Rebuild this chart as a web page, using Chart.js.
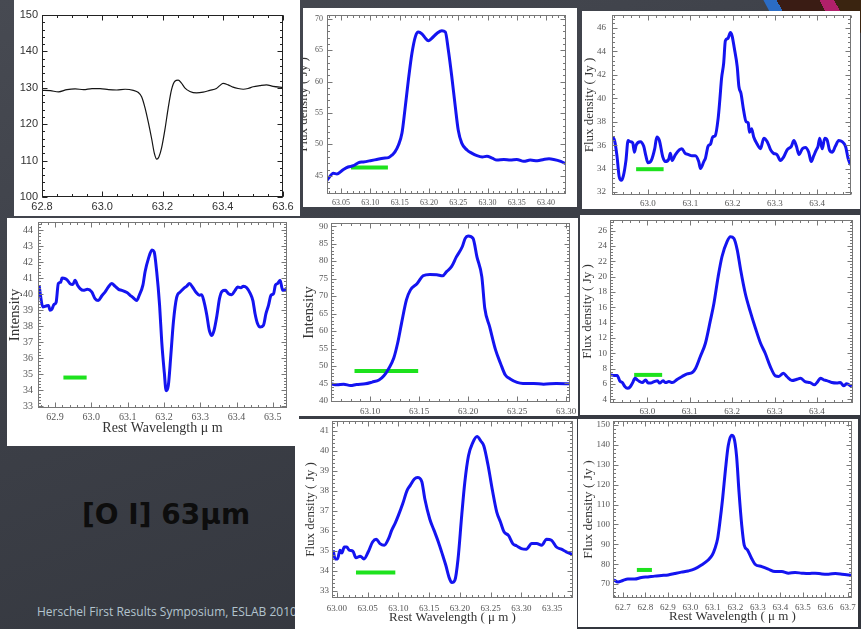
<!DOCTYPE html>
<html>
<head>
<meta charset="utf-8">
<script src="https://cdn.jsdelivr.net/npm/chart.js@4.4.0/dist/chart.umd.min.js"></script>
<style>
body { margin: 0; width: 861px; height: 629px; overflow: hidden; position: relative;
  background: linear-gradient(160deg, #474a52 0%, #3c3f47 45%, #31343b 100%); }
.panel { position: absolute; background: #fff; overflow: hidden; }
.panel canvas { position: absolute; left: 0; top: 0; }
#deco { position: absolute; left: 772px; top: -40px; width: 130px; height: 80px; transform: rotate(-28deg);
  background: linear-gradient(90deg, #2b6cc4 0 9%, #3a1c14 9% 38%, #b0206a 38% 48%, #3a2410 48% 78%, #c08020 78% 86%, #2b6cc4 86%); }
#title { position: absolute; left: 82px; top: 501px; font: bold 28px "DejaVu Sans"; line-height: 28px; color: #0d0d0d; white-space: nowrap; }
#foot { position: absolute; left: 37px; top: 606px; font: 12px "Open Sans"; line-height: 12px; color: #b3c4ce; white-space: nowrap; }
</style>
</head>
<body>
<div id="deco"></div>
<div id="title">[O I] 63μm</div>
<div id="foot">Herschel First Results Symposium, ESLAB 2010</div>
<script>
// panel 1 (top left, black)
const wl1 = [62.800,62.828,62.855,62.883,62.910,62.938,62.966,62.993,63.021,63.048,63.076,63.103,63.120,63.131,63.142,63.153,63.164,63.173,63.181,63.188,63.197,63.208,63.219,63.230,63.241,63.252,63.263,63.274,63.291,63.313,63.335,63.357,63.379,63.390,63.401,63.418,63.434,63.451,63.468,63.484,63.501,63.523,63.545,63.567,63.600];
const flux1 = [129.3,129.2,128.9,129.5,129.7,129.5,129.8,129.8,129.5,129.4,129.6,129.3,128.7,127.5,124.5,120.5,116,112,110.4,111,113.5,118.5,124.5,129.5,131.8,132.1,131.3,130.0,129.0,128.6,128.8,129.3,129.8,130.6,131.2,130.8,130.2,129.8,129.6,129.8,130.3,130.6,130.8,130.4,130.1];

// panel 2 (top middle)
const wl2 = [63.026,63.037,63.043,63.054,63.062,63.071,63.080,63.088,63.100,63.111,63.122,63.131,63.137,63.142,63.148,63.154,63.159,63.165,63.171,63.177,63.182,63.188,63.194,63.199,63.205,63.214,63.222,63.228,63.233,63.239,63.245,63.250,63.256,63.265,63.273,63.282,63.291,63.299,63.308,63.316,63.328,63.339,63.350,63.362,63.373,63.385,63.396,63.405,63.413,63.425,63.434];
const flux2 = [44.3,45.4,45.3,46.0,46.4,46.6,47.1,47.2,47.4,47.6,47.8,47.9,48.3,48.8,49.9,51.8,55.5,60.3,64.5,67.2,67.9,67.6,66.9,66.5,66.9,67.7,68.1,67.9,65.1,60.8,56.0,52.3,50.2,49.1,48.6,48.2,48.0,48.1,47.8,47.5,47.6,47.5,47.6,47.3,47.5,47.4,47.6,47.7,47.6,47.3,46.9];
const bar2 = [63.067, 63.130], barLevel2 = 46.3;

// panel 3 (top right)
const wl3 = [62.916,62.921,62.927,62.932,62.937,62.942,62.948,62.953,62.958,62.964,62.968,62.972,62.982,62.990,62.995,63.000,63.008,63.016,63.021,63.027,63.035,63.041,63.049,63.053,63.057,63.065,63.074,63.080,63.088,63.096,63.104,63.112,63.120,63.124,63.132,63.136,63.142,63.148,63.153,63.159,63.166,63.170,63.174,63.179,63.183,63.189,63.195,63.199,63.204,63.211,63.215,63.220,63.226,63.232,63.237,63.240,63.245,63.250,63.258,63.266,63.274,63.282,63.290,63.297,63.305,63.313,63.321,63.329,63.339,63.345,63.351,63.357,63.365,63.372,63.380,63.386,63.392,63.398,63.402,63.406,63.412,63.418,63.424,63.429,63.436,63.443,63.451,63.459,63.467,63.473,63.479];
const flux3 = [36.7,36.4,35.0,33.3,33.0,33.4,34.7,36.4,36.3,36.2,35.4,36.0,36.3,35.9,35.1,34.5,34.7,35.7,36.7,36.4,35.0,34.6,34.8,35.3,34.7,35.2,35.6,35.7,35.3,35.2,35.1,35.1,34.6,34.0,34.6,34.9,35.9,36.1,36.7,36.8,38.3,39.9,41.7,43.0,44.9,45.1,45.6,45.3,44.3,42.7,41.0,40.4,39.0,38.0,37.9,37.1,37.4,36.7,36.1,35.7,36.6,36.3,35.6,35.3,35.2,34.7,35.0,35.6,35.9,36.4,35.9,35.2,35.7,35.8,35.4,34.6,35.1,35.6,35.9,36.6,35.7,36.6,36.4,35.6,35.4,35.9,36.4,36.3,35.9,34.9,34.3];
const bar3 = [62.972, 63.037], barLevel3 = 33.95;

// panel 4 (middle left)
const wl4 = [62.856,62.860,62.866,62.875,62.882,62.886,62.891,62.897,62.903,62.909,62.916,62.919,62.928,62.934,62.941,62.949,62.955,62.962,62.969,62.978,62.989,63.001,63.010,63.019,63.029,63.038,63.047,63.056,63.065,63.075,63.084,63.098,63.107,63.116,63.125,63.132,63.142,63.148,63.157,63.167,63.173,63.180,63.188,63.194,63.201,63.206,63.212,63.219,63.226,63.235,63.245,63.254,63.263,63.270,63.280,63.289,63.298,63.304,63.311,63.318,63.325,63.332,63.338,63.346,63.353,63.360,63.369,63.378,63.387,63.396,63.403,63.412,63.419,63.428,63.438,63.445,63.451,63.458,63.465,63.474,63.481,63.488,63.495,63.502,63.507,63.513,63.520,63.527,63.534,63.541];
const flux4 = [40.56,39.9,39.2,39.26,39.3,39.0,39.05,39.35,39.5,40.66,40.76,41.0,40.97,40.87,40.66,40.6,40.87,40.56,40.35,40.24,40.3,40.14,39.72,39.6,39.9,40.14,40.45,40.66,40.5,40.3,40.24,40.1,39.93,39.76,39.6,39.93,40.56,41.4,42.2,42.75,42.64,41.4,39.3,37.0,35.1,33.98,34.3,36.2,38.26,39.8,40.14,40.35,40.5,40.66,40.4,40.1,39.93,39.97,39.47,38.7,37.74,37.42,37.74,38.68,39.72,40.18,40.24,40.03,39.97,40.24,40.45,40.4,40.5,40.4,40.03,39.6,38.78,38.15,37.95,38.05,38.78,39.3,39.93,40.03,40.56,40.66,40.87,40.24,40.3,40.4];
const bar4 = [62.923, 62.987], barLevel4 = 34.8;

// panel 5 (centre)
const wl5 = [63.060,63.066,63.073,63.080,63.086,63.095,63.102,63.109,63.114,63.119,63.124,63.128,63.132,63.137,63.141,63.148,63.154,63.161,63.168,63.174,63.178,63.183,63.188,63.194,63.197,63.200,63.205,63.209,63.214,63.217,63.222,63.228,63.233,63.238,63.243,63.250,63.256,63.267,63.277,63.290,63.304];
const flux5 = [44.9,44.6,44.8,44.4,44.7,44.9,45.4,46.0,47.2,49.3,52.2,56.5,62.2,68.9,71.7,73.6,75.8,76.2,76.1,75.8,77.0,78.4,81.2,84.1,86.5,87.2,86.5,81.2,75.5,66.5,61.2,54.6,50.8,47.4,46.3,45.3,45.0,45.0,44.8,45.0,44.9];
const bar5 = [63.084, 63.149], barLevel5 = 48.6;

// panel 6 (middle right)
const wl6 = [62.914,62.922,62.929,62.935,62.941,62.947,62.953,62.959,62.965,62.971,62.976,62.982,62.988,62.996,63.002,63.008,63.016,63.024,63.029,63.037,63.043,63.051,63.059,63.071,63.082,63.094,63.106,63.114,63.125,63.137,63.149,63.157,63.167,63.176,63.188,63.196,63.204,63.212,63.220,63.231,63.243,63.255,63.267,63.278,63.290,63.302,63.310,63.321,63.329,63.341,63.353,63.361,63.372,63.384,63.394,63.402,63.408,63.416,63.423,63.435,63.447,63.455,63.463,63.470,63.482];
const flux6 = [7.17,7.1,7.1,6.4,6.17,5.65,5.43,5.57,6.1,6.74,6.52,6.3,6.17,6.52,6.1,6.1,6.3,6.4,6.1,6.4,6.17,6.3,6.17,6.6,6.96,7.3,7.48,8.04,9.57,11.3,14.35,16.5,20.0,22.6,24.57,25.2,25.0,23.5,20.9,17.8,15.4,13.26,11.3,10.0,8.26,7.04,6.96,7.4,6.96,6.43,6.6,6.74,6.3,6.17,5.87,6.3,6.74,6.52,6.43,6.17,6.1,6.17,5.74,6.0,5.65];
const bar6 = [62.969, 63.035], barLevel6 = 7.17;

// panel 7 (bottom middle)
const wl7 = [62.994,62.997,63.001,63.005,63.008,63.012,63.016,63.020,63.026,63.031,63.038,63.044,63.051,63.058,63.064,63.070,63.077,63.084,63.089,63.095,63.100,63.107,63.114,63.119,63.126,63.131,63.138,63.143,63.151,63.158,63.165,63.172,63.177,63.183,63.187,63.192,63.197,63.203,63.208,63.214,63.221,63.228,63.234,63.239,63.246,63.253,63.260,63.266,63.272,63.279,63.286,63.292,63.300,63.308,63.317,63.325,63.333,63.341,63.349,63.357,63.365,63.373,63.383];
const flux7 = [35.04,34.6,34.6,35.04,34.9,35.2,35.2,35.04,34.99,34.66,34.74,34.6,34.96,35.45,35.59,35.37,35.29,35.62,36.03,36.41,36.78,37.36,38.02,38.27,38.6,38.68,38.48,37.6,36.6,36.03,35.45,34.79,34.3,33.63,33.42,33.55,34.6,36.78,38.43,39.76,40.42,40.72,40.5,40.25,39.26,38.02,36.94,36.45,35.95,35.78,35.37,35.26,35.12,35.09,35.37,35.37,35.29,35.59,35.54,35.2,35.09,34.96,34.82];
const bar7 = [63.031, 63.095], barLevel7 = 33.93;

// panel 8 (bottom right)
const wl8 = [62.660,62.678,62.700,62.722,62.752,62.782,62.811,62.841,62.871,62.901,62.930,62.960,62.990,63.019,63.049,63.079,63.097,63.109,63.121,63.131,63.143,63.156,63.168,63.183,63.193,63.205,63.216,63.228,63.239,63.254,63.272,63.287,63.317,63.346,63.376,63.406,63.436,63.465,63.495,63.525,63.554,63.584,63.614,63.644,63.673,63.718];
const flux8 = [72.1,71.0,71.8,72.5,72.5,73.3,73.6,74.0,74.3,74.6,75.3,76.0,76.6,77.6,79.6,82.1,84.6,87.9,92.9,101.2,112.9,127.9,139.5,144.8,143.7,134.5,116.2,99.6,89.6,87.1,82.9,80.0,78.8,77.5,76.3,76.3,75.5,75.8,75.5,75.3,75.5,75.1,75.0,75.3,75.0,74.3];
const bar8 = [62.762, 62.829], barLevel8 = 77.1;

const BLUE = '#1414f0', GREEN = '#1de21d';
const FLUX = 'Flux density ( Jy )';

const framePlugin = {
  id: 'frame',
  afterDatasetsDraw(chart, args, o) {
    const {ctx, chartArea: a, scales: {x, y}} = chart;
    const L = Math.round(a.left) + 0.5, R = Math.round(a.right) - 0.5;
    const T = Math.round(a.top) + 0.5, B = Math.round(a.bottom) - 0.5;
    ctx.save();
    ctx.strokeStyle = o.color;
    ctx.lineWidth = 1;
    ctx.strokeRect(L, T, R - L, B - T);
    ctx.beginPath();
    const each = (s, step, fn) => {
      const start = Math.ceil(s.min / step - 1e-6);
      for (let i = start; i * step <= s.max + 1e-9; i++) fn(Math.round(s.getPixelForValue(i * step)) + 0.5);
    };
    const xt = len => px => { ctx.moveTo(px, B); ctx.lineTo(px, B - len); ctx.moveTo(px, T); ctx.lineTo(px, T + len); };
    const yt = len => py => { ctx.moveTo(L, py); ctx.lineTo(L + len, py); ctx.moveTo(R, py); ctx.lineTo(R - len, py); };
    each(x, o.xMinor, xt(o.minor));
    each(y, o.yMinor, yt(o.minor));
    x.ticks.forEach(t => xt(o.major)(Math.round(x.getPixelForValue(t.value)) + 0.5));
    y.ticks.forEach(t => yt(o.major)(Math.round(y.getPixelForValue(t.value)) + 0.5));
    ctx.stroke();
    ctx.restore();
  }
};

const panels = [
  {box: [14, 0, 300, 216], frame: [42, 15, 283, 197], x: wl1, y: flux1, xr: [62.8, 63.6], yr: [100, 150],
   xs: 0.2, ys: 10, xd: 1, yd: 0, xm: 0.05, ym: 2, line: '#151515', lw: 1.2, sans: true, ypad: 4, xpad: 3},
  {box: [303, 8, 577, 207], frame: [327, 15, 566, 194], x: wl2, y: flux2, bar: bar2, level: barLevel2,
   xr: [63.026, 63.434], yr: [42.1, 70.6], xs: 0.05, ys: 5, xd: 2, yd: 0, xm: 0.01, ym: 1,
   ytitle: FLUX, ysize: 13, ytpad: -7, ypad: 4, xpad: 4, tsize: 8},
  {box: [582, 11, 860, 209], frame: [612, 15, 851, 195], x: wl3, y: flux3, bar: bar3, level: barLevel3,
   xr: [62.915, 63.48], yr: [31.75, 47.1], xs: 0.1, ys: 2, xd: 1, yd: 0, xm: 0.02, ym: 0.4,
   ytitle: FLUX, ysize: 13, ytpad: 0, ypad: 6, xpad: 3},
  {box: [7, 218, 299, 446], frame: [38, 222, 287, 408], x: wl4, y: flux4, bar: bar4, level: barLevel4,
   xr: [62.853, 63.539], yr: [32.9, 44.5], xs: 0.1, ys: 1, xd: 1, yd: 0, xm: 0.02, ym: 0.2,
   ytitle: 'Intensity', ysize: 15, ytpad: -1, ypad: 5, xpad: 3, tsize: 10,
   xtitle: 'Rest Wavelength μ m', xsize: 14, xtpad: 9.6},
  {box: [299, 218, 578, 416], frame: [331, 223, 570, 402], x: wl5, y: flux5, bar: bar5, level: barLevel5,
   xr: [63.06, 63.304], yr: [39.7, 90.9], xs: 0.05, ys: 5, xd: 2, yd: 0, xm: 0.01, ym: 1,
   ytitle: 'Intensity', ysize: 15, ytpad: 1.5, ypad: 3, xpad: 4},
  {box: [580, 215, 860, 415], frame: [610, 220, 853, 403], x: wl6, y: flux6, bar: bar6, level: barLevel6,
   xr: [62.912, 63.485], yr: [3.5, 27.4], xs: 0.1, ys: 2, xd: 1, yd: 0, xm: 0.02, ym: 0.4,
   ytitle: FLUX, ysize: 13, ytpad: 0, ypad: 3, xpad: 3},
  {box: [295, 419, 577, 629], frame: [332, 421, 573, 598], x: wl7, y: flux7, bar: bar7, level: barLevel7,
   xr: [62.992, 63.384], yr: [32.65, 41.5], xs: 0.05, ys: 1, xd: 2, yd: 0, xm: 0.01, ym: 0.2,
   ytitle: FLUX, ysize: 13, ytpad: 7.7, ypad: 3, xpad: 5,
   xtitle: 'Rest Wavelength ( μ m )', xsize: 13, xtpad: 3.2},
  {box: [578, 419, 858, 627], frame: [613, 421, 852, 598], x: wl8, y: flux8, bar: bar8, level: barLevel8,
   xr: [62.656, 63.718], yr: [63, 152], xs: 0.1, ys: 10, xd: 1, yd: 0, xm: 0.02, ym: 2,
   ytitle: FLUX, ysize: 13.5, ytpad: 2.7, ypad: 3, xpad: 4,
   xtitle: 'Rest Wavelength ( μ m )', xsize: 13, xtpad: 2.2}
];

function makePanel(p) {
  const [bl, bt, br, bb] = p.box;
  const [fl, ft, fr, fb] = p.frame;
  const div = document.createElement('div');
  div.className = 'panel';
  Object.assign(div.style, {left: bl + 'px', top: bt + 'px', width: (br - bl) + 'px', height: (bb - bt) + 'px'});
  const cv = document.createElement('canvas');
  cv.width = br - bl;
  cv.height = bb - bt;
  div.appendChild(cv);
  document.body.appendChild(div);

  const tickFont = p.sans ? {family: 'Liberation Sans', size: 11} : {family: 'Liberation Serif', size: p.tsize || 9};
  const tickColor = p.sans ? '#333' : '#555';
  const datasets = [{
    data: p.x.map((v, i) => ({x: v, y: p.y[i]})),
    borderColor: p.line || BLUE, borderWidth: p.lw || 3, pointRadius: 0,
    cubicInterpolationMode: 'monotone', borderJoinStyle: 'round'
  }];
  if (p.bar) {
    datasets.push({
      data: p.bar.map(v => ({x: v, y: p.level})),
      borderColor: GREEN, borderWidth: 4, pointRadius: 0, borderCapStyle: 'butt'
    });
  }
  new Chart(cv, {
    type: 'line',
    data: {datasets},
    options: {
      responsive: false, animation: false, devicePixelRatio: 1,
      layout: {padding: {top: ft - bt, right: br - fr, left: 0, bottom: 0}},
      plugins: {
        legend: {display: false}, tooltip: {enabled: false},
        frame: {color: p.sans ? '#222' : '#777', major: 5, minor: 2.5,
                xMinor: p.xm, yMinor: p.ym}
      },
      scales: {
        x: {
          type: 'linear', min: p.xr[0], max: p.xr[1],
          grid: {display: false, drawTicks: false}, border: {display: false},
          ticks: {stepSize: p.xs, includeBounds: false, autoSkip: false, maxRotation: 0,
                  font: tickFont, color: tickColor, padding: p.xpad,
                  callback: v => v.toFixed(p.xd)},
          title: p.xtitle ? {display: true, text: p.xtitle, color: '#333',
                  font: {family: 'Liberation Serif', size: p.xsize}, padding: {top: 0, bottom: p.xtpad}} : {display: false},
          afterFit: s => { s.height = bb - fb; s.paddingLeft = 0; s.paddingRight = 0; }
        },
        y: {
          type: 'linear', min: p.yr[0], max: p.yr[1],
          grid: {display: false, drawTicks: false}, border: {display: false},
          ticks: {stepSize: p.ys, includeBounds: false, autoSkip: false,
                  font: tickFont, color: tickColor, padding: p.ypad,
                  callback: v => v.toFixed(p.yd)},
          title: p.ytitle ? {display: true, text: p.ytitle, color: '#333',
                  font: {family: 'Liberation Serif', size: p.ysize}, padding: {top: p.ytpad, bottom: 0}} : {display: false},
          afterFit: s => { s.width = fl - bl; s.paddingTop = 0; s.paddingBottom = 0; }
        }
      }
    },
    plugins: [framePlugin]
  });
}

panels.forEach(makePanel);
</script>
</body>
</html>
